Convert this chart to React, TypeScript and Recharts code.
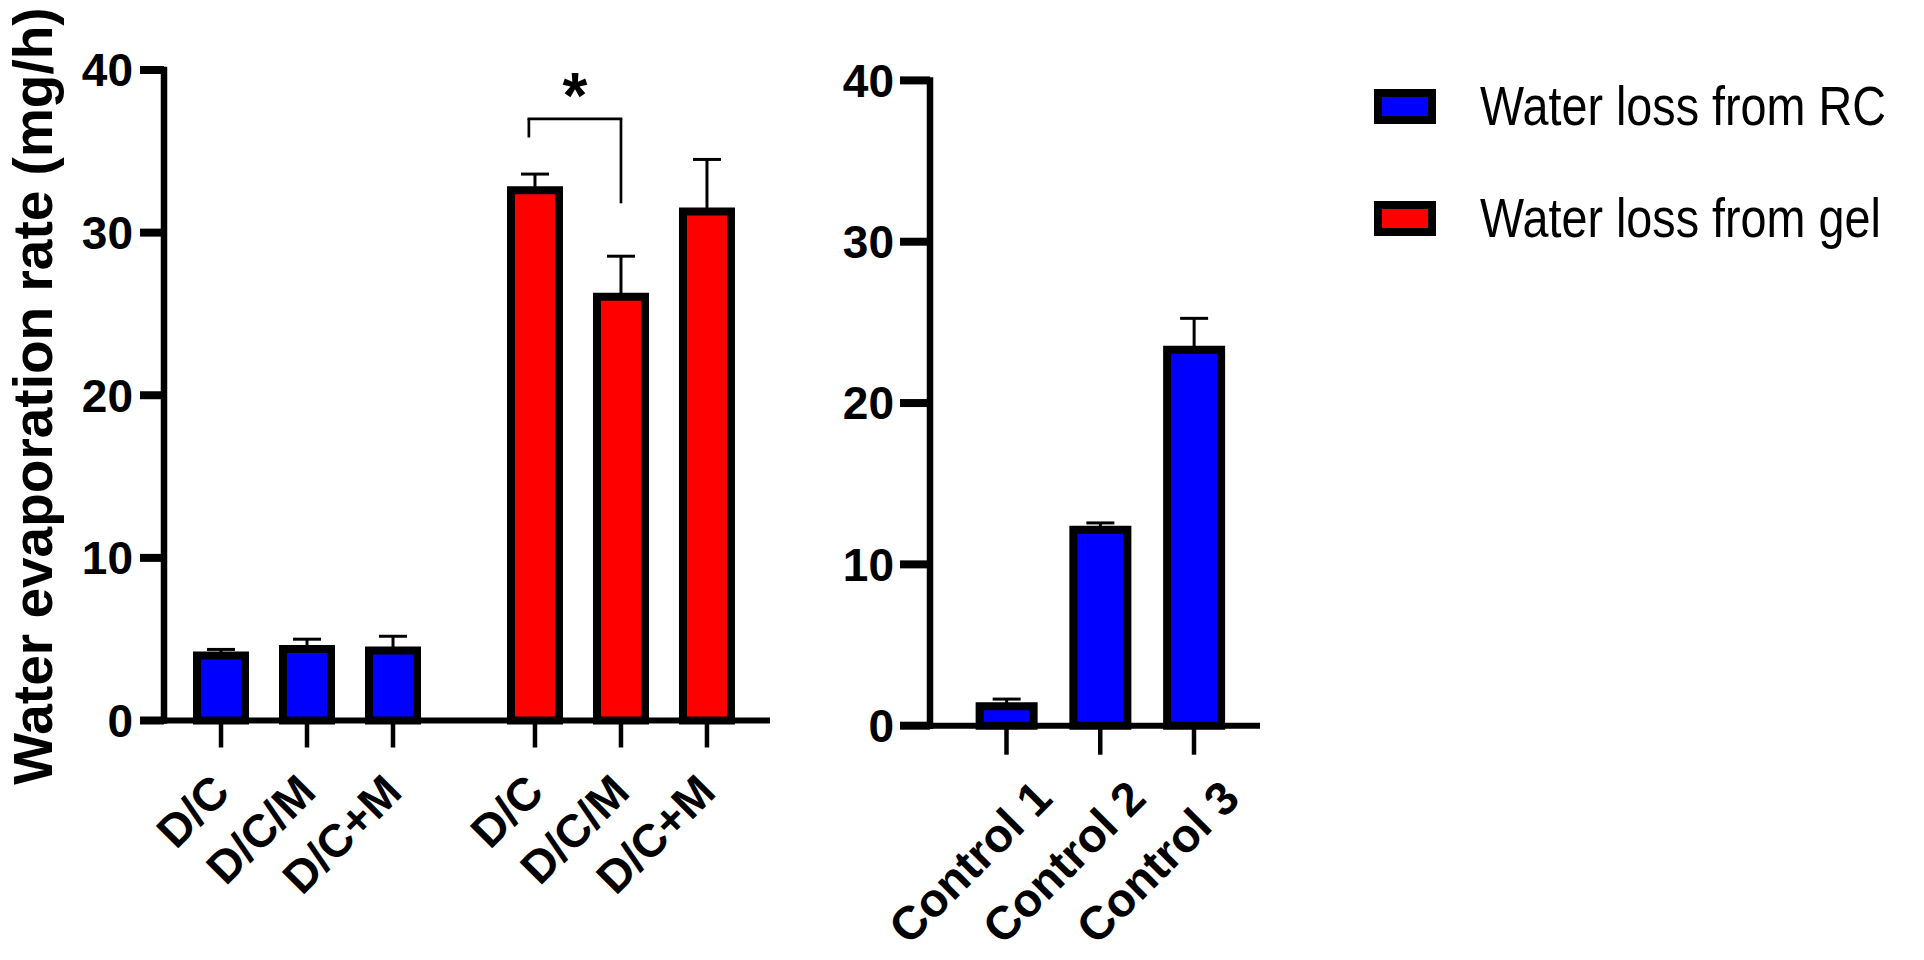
import React from 'react';
import { BarChart, Bar, XAxis, YAxis, ErrorBar, ReferenceLine, ReferenceDot, Legend } from 'recharts';

const FONT = '"Liberation Sans", Arial, sans-serif';

// left panel: RC vs gel
const groupLabels = ['D/C', 'D/C/M', 'D/C+M', 'D/C', 'D/C/M', 'D/C+M'];
const groupPos = [1, 2, 3, 4.651, 5.651, 6.651];
const rcValues = [4.0, 4.4, 4.3, null, null, null];
const rcErrors = [0.37, 0.6, 0.88, null, null, null];
const gelValues = [null, null, null, 32.6, 26.05, 31.3];
const gelErrors = [null, null, null, 1.0, 2.5, 3.2];

// right panel: controls
const controlLabels = ['Control 1', 'Control 2', 'Control 3'];
const controlPos = [1, 2, 3];
const controlValues = [1.2, 12.15, 23.3];
const controlErrors = [0.45, 0.42, 1.95];

const yTicks = [0, 10, 20, 30, 40];
const seriesNames = ['Water loss from RC', 'Water loss from gel'];
const seriesColors = ['#0000FF', '#FF0000'];

// significance bracket (gel D/C vs gel D/C/M)
const bracketX = [4.58, 5.651];
const bracketTop = 37.0;
const bracketLegs = [35.85, 31.8];
const starY = 39.2;

const leftData = groupPos.map((pos, i) => ({
  pos,
  rc: rcValues[i],
  gel: gelValues[i],
  rcErr: rcErrors[i] == null ? undefined : [0, rcErrors[i]],
  gelErr: gelErrors[i] == null ? undefined : [0, gelErrors[i]],
}));

const rightData = controlPos.map((pos, i) => ({
  pos,
  rc: controlValues[i],
  rcErr: [0, controlErrors[i]],
}));

const makeTick = (labels: string[], positions: number[], dx: number, dy: number, size: number) => (props: any) => {
  const { x, y, payload } = props;
  const i = positions.indexOf(payload.value);
  return (
    <g transform={`translate(${x + dx},${y + dy})`}>
      <text textAnchor="end" transform="rotate(-45)" fontSize={size} fontWeight={700} fill="#000" fontFamily={FONT}>
        {labels[i]}
      </text>
    </g>
  );
};

const yTickStyle = { fontSize: 46, fontWeight: 700, fill: '#000', fontFamily: FONT };

const LegendBox = (props: any) => {
  const items = props.payload && props.payload.length ? props.payload : seriesNames.map((n) => ({ value: n }));
  return (
    <div style={{ fontFamily: FONT }}>
      {items.map((it: any, i: number) => (
        <div key={i} style={{ display: 'flex', alignItems: 'center', height: 112 }}>
          <div style={{ width: 62, height: 35, boxSizing: 'border-box', border: '8px solid #000', background: seriesColors[i], flex: 'none' }} />
          <span
            style={{
              display: 'inline-block',
              marginLeft: 44,
              fontSize: 55,
              lineHeight: 1,
              color: '#000',
              whiteSpace: 'nowrap',
              transform: 'scaleX(0.85)',
              transformOrigin: 'left center',
            }}
          >
            {it.value}
          </span>
        </div>
      ))}
    </div>
  );
};

const YTitle = () => (
  <text x={52} y={396} transform="rotate(-90, 52, 396)" textAnchor="middle" fontSize={55} fontWeight={700} fill="#000" fontFamily={FONT}>
    Water evaporation rate (mg/h)
  </text>
);

const Star = (props: any) => {
  const { x, y } = props.viewBox;
  return (
    <text x={x} y={y + 35} textAnchor="middle" fontSize={64} fontWeight={700} fill="#000" fontFamily={FONT}>
      *
    </text>
  );
};

export default function App() {
  return (
    <div style={{ position: 'absolute', left: 0, top: 0, width: 1924, height: 960, background: '#fff', fontFamily: FONT }}>
      <div style={{ position: 'absolute', left: 0, top: 0 }}>
        <BarChart width={800} height={960} data={leftData} margin={{ top: 70, right: 30, bottom: 0, left: 0 }}>
          <XAxis
            dataKey="pos"
            type="number"
            domain={[0.337, 7.384]}
            ticks={groupPos}
            allowDataOverflow
            height={239.5}
            tickSize={27}
            axisLine={{ stroke: '#000', strokeWidth: 6 }}
            tickLine={{ stroke: '#000', strokeWidth: 4.5 }}
            tick={makeTick(groupLabels, groupPos, 11, 45, 46)}
            interval={0}
          />
          <YAxis
            type="number"
            domain={[0, 40]}
            ticks={yTicks}
            width={164}
            tickSize={24}
            tickMargin={7}
            axisLine={{ stroke: '#000', strokeWidth: 6.5, strokeLinecap: 'square' }}
            tickLine={{ stroke: '#000', strokeWidth: 8 }}
            tick={yTickStyle}
            label={<YTitle />}
          />
          <Bar dataKey="rc" name={seriesNames[0]} stackId="s" fill={seriesColors[0]} stroke="#000" strokeWidth={8} barSize={48} isAnimationActive={false}>
            <ErrorBar dataKey="rcErr" direction="y" width={14} stroke="#000" strokeWidth={3} />
          </Bar>
          <Bar dataKey="gel" name={seriesNames[1]} stackId="s" fill={seriesColors[1]} stroke="#000" strokeWidth={8} barSize={48} isAnimationActive={false}>
            <ErrorBar dataKey="gelErr" direction="y" width={14} stroke="#000" strokeWidth={3} />
          </Bar>
          <ReferenceLine segment={[{ x: bracketX[0], y: bracketTop }, { x: bracketX[1], y: bracketTop }]} stroke="#000" strokeWidth={2.7} strokeLinecap="square" />
          <ReferenceLine segment={[{ x: bracketX[0], y: bracketTop }, { x: bracketX[0], y: bracketLegs[0] }]} stroke="#000" strokeWidth={2.7} />
          <ReferenceLine segment={[{ x: bracketX[1], y: bracketTop }, { x: bracketX[1], y: bracketLegs[1] }]} stroke="#000" strokeWidth={2.7} />
          <ReferenceDot x={(bracketX[0] + bracketX[1]) / 2} y={starY} r={0} fill="none" stroke="none" label={Star} />
          <Legend
            layout="horizontal"
            verticalAlign="middle"
            align="center"
            content={LegendBox}
            wrapperStyle={{ position: 'absolute', left: 1374, top: 50, width: 560 }}
          />
        </BarChart>
      </div>
      <div style={{ position: 'absolute', left: 840, top: 0 }}>
        <BarChart width={450} height={960} data={rightData} margin={{ top: 80.4, right: 30, bottom: 0, left: 0 }}>
          <XAxis
            dataKey="pos"
            type="number"
            domain={[0.184, 3.704]}
            ticks={controlPos}
            allowDataOverflow
            height={234.3}
            tickSize={29}
            axisLine={{ stroke: '#000', strokeWidth: 6 }}
            tickLine={{ stroke: '#000', strokeWidth: 4.5 }}
            tick={makeTick(controlLabels, controlPos, 48, 44, 47)}
            interval={0}
          />
          <YAxis
            type="number"
            domain={[0, 40]}
            ticks={yTicks}
            width={90}
            tickSize={30}
            tickMargin={6}
            axisLine={{ stroke: '#000', strokeWidth: 6.5, strokeLinecap: 'square' }}
            tickLine={{ stroke: '#000', strokeWidth: 8 }}
            tick={yTickStyle}
          />
          <Bar dataKey="rc" name={seriesNames[0]} fill={seriesColors[0]} stroke="#000" strokeWidth={8} barSize={54} isAnimationActive={false}>
            <ErrorBar dataKey="rcErr" direction="y" width={14} stroke="#000" strokeWidth={3} />
          </Bar>
        </BarChart>
      </div>
    </div>
  );
}
